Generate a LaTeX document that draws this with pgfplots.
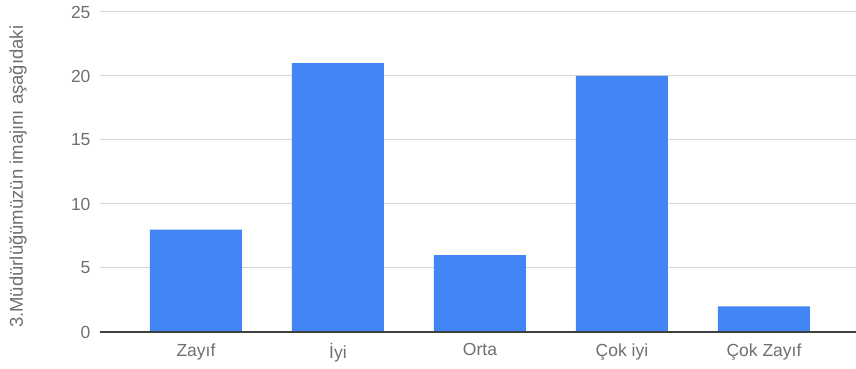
\documentclass[border=0pt]{standalone}
\usepackage{pgfplots}
\pgfplotsset{compat=1.18}
\usepackage{fontspec}
\setmainfont{Liberation Sans}
\definecolor{barblue}{HTML}{4285F4}
\definecolor{ticklab}{HTML}{6F6F6F}
\definecolor{gridc}{HTML}{D6D6D6}
\begin{document}
\begin{tikzpicture}[x=1pt,y=1pt]
\useasboundingbox (0,0) rectangle (856,369);
\begin{axis}[
  at={(100pt,37pt)}, anchor=south west,
  scale only axis, width=756pt, height=320pt,
  xmin=-0.676, xmax=4.648, ymin=0, ymax=25,
  ytick={0,5,10,15,20,25},
  xtick={0,1,2,3,4},
  xticklabels={Zayıf,İyi,Orta,Çok iyi,Çok Zayıf},
  axis line style={draw=none},
  axis x line*=bottom,
  tick style={draw=none},
  ymajorgrids, grid style={gridc, line width=1pt},
  tick label style={font=\fontsize{17.5}{19}\selectfont, text=ticklab},
  /pgf/number format/assume math mode=true,
  yticklabel style={xshift=-6pt},
  xticklabel style={yshift=-8pt},
  ylabel={3.Müdürlüğümüzün imajını aşağıdaki},
  ylabel style={font=\fontsize{18.5}{20}\selectfont, text=ticklab, at={(-82pt,0.485)}, anchor=center, rotate=0},
  clip=false,
]
\addplot[ybar, bar width=92pt, fill=barblue, draw=none] coordinates {(0,8) (1,21) (2,6) (3,20) (4,2)};
\draw[black!75, line width=1.2pt] (axis cs:-0.676,0) -- (axis cs:4.648,0);
\end{axis}
\end{tikzpicture}
\end{document}
